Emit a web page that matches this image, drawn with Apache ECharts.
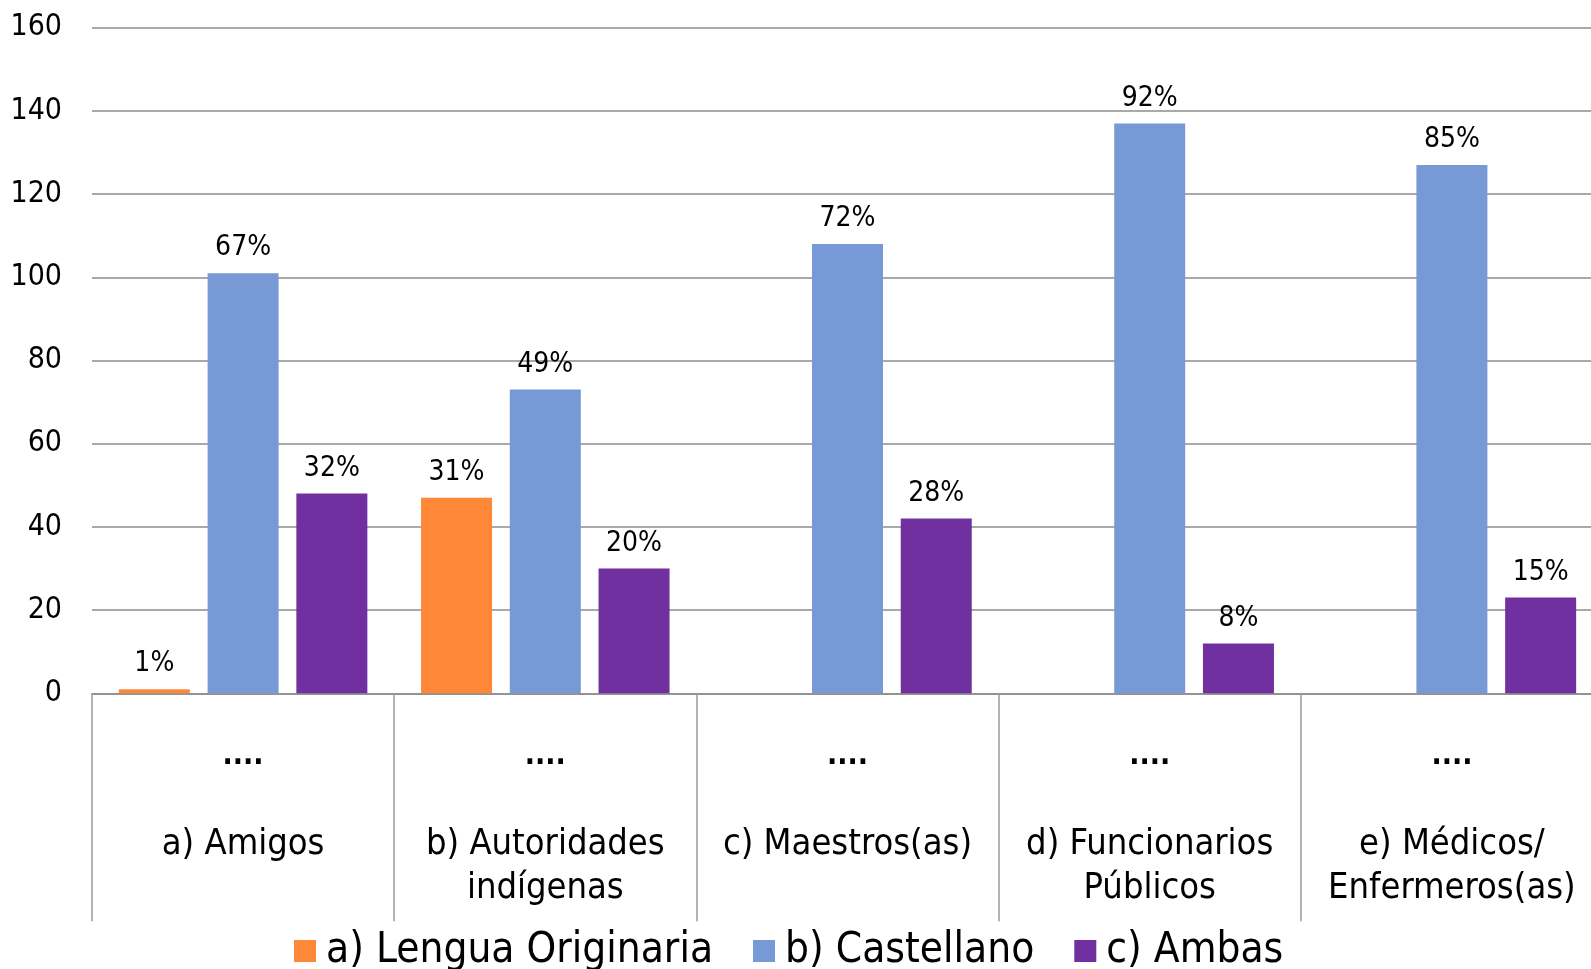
<!DOCTYPE html>
<html>
<head>
<meta charset="utf-8">
<script src="https://cdn.jsdelivr.net/npm/echarts@6/dist/echarts.min.js"></script>
<style>
  html, body { margin: 0; padding: 0; background: #fff; overflow: hidden; }
  #main { width: 1604px; height: 969px; }
</style>
</head>
<body>
<div id="main"></div>
<script>
var categories = ["a) Amigos", "b) Autoridades\nindígenas", "c) Maestros(as)", "d) Funcionarios\nPúblicos", "e) Médicos/\nEnfermeros(as)"];
var upperLabels = ["....", "....", "....", "....", "...."];
var seriesNames = ["a) Lengua Originaria", "b) Castellano", "c) Ambas"];

var lenguaValues = [1, 47, 0, 0, 0];
var castellanoValues = [101, 73, 108, 137, 127];
var ambasValues = [48, 30, 42, 12, 23];

var lenguaPct = ["1%", "31%", "", "", ""];
var castellanoPct = ["67%", "49%", "72%", "92%", "85%"];
var ambasPct = ["32%", "20%", "28%", "8%", "15%"];

var yTicks = [0, 20, 40, 60, 80, 100, 120, 140, 160];

var font = '"DejaVu Sans Condensed", "Liberation Sans", sans-serif';

// the plot runs past the right edge of the picture, so the div is wider than the window
var chartDom = document.getElementById("main");
var myChart = echarts.init(chartDom);

function barSeries(name, values, pct, color) {
  return {
    name: name,
    type: "bar",
    xAxisIndex: 0,
    data: values,
    barWidth: 71,
    barGap: "25%",
    itemStyle: { color: color },
    label: {
      show: true,
      position: "top",
      distance: 11,
      color: "#000",
      fontFamily: font,
      fontSize: 28,
      formatter: function (p) {
        return pct[p.dataIndex];
      },
    },
  };
}

var option = {
  animation: false,
  grid: {
    left: 92,
    right: 1,
    top: 27.7,
    bottom: 275.7,
    containLabel: false,
  },
  legend: {
    data: seriesNames,
    left: 294,
    top: 930,
    padding: 0,
    itemWidth: 22,
    itemHeight: 22,
    itemGap: 40,
    icon: "rect",
    textStyle: {
      fontFamily: font,
      fontSize: 42,
      color: "#000",
      padding: [0, 0, 0, 5],
    },
  },
  xAxis: [
    {
      type: "category",
      data: upperLabels,
      position: "bottom",
      axisLine: { show: true, lineStyle: { color: "#8c8c8c", width: 1.5 } },
      axisTick: {
        show: true,
        interval: 0,
        length: 228,
        lineStyle: { color: "#9a9a9a", width: 1.5 },
      },
      axisLabel: {
        interval: 0,
        margin: 48,
        color: "#000",
        fontFamily: font,
        fontWeight: "bold",
        fontSize: 30,
      },
    },
    {
      type: "category",
      data: categories,
      position: "bottom",
      axisLine: { show: false },
      axisTick: { show: false },
      axisLabel: {
        interval: 0,
        margin: 129,
        color: "#000",
        fontFamily: font,
        fontSize: 36,
        lineHeight: 44,
        align: "center",
      },
    },
  ],
  yAxis: {
    type: "value",
    min: yTicks[0],
    max: yTicks[yTicks.length - 1],
    interval: 20,
    axisLine: { show: false },
    axisTick: { show: false },
    splitLine: { lineStyle: { color: "#8c8c8c", width: 1.5 } },
    axisLabel: {
      margin: 30,
      color: "#000",
      fontFamily: font,
      fontSize: 30,
      padding: [4, 0, 0, 0],
    },
  },
  series: [
    barSeries(seriesNames[0], lenguaValues, lenguaPct, "#FF8838"),
    barSeries(seriesNames[1], castellanoValues, castellanoPct, "#7799D6"),
    barSeries(seriesNames[2], ambasValues, ambasPct, "#7030A0"),
  ],
};

option && myChart.setOption(option);
</script>
</body>
</html>
